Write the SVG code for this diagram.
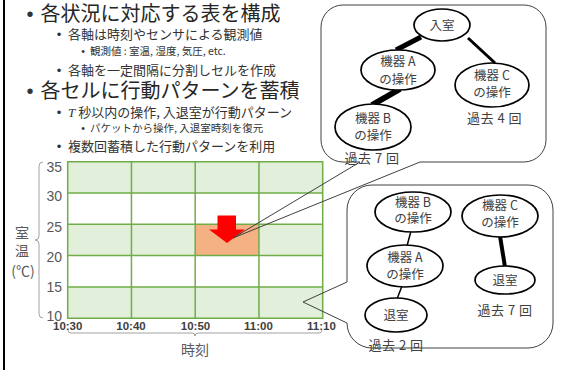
<svg xmlns="http://www.w3.org/2000/svg" width="561" height="370" viewBox="0 0 561 370">
<style>
text{font-family:"Noto Sans CJK JP","Noto Sans",sans-serif}
.t1{font-size:20px;fill:#262626}
.t2{font-size:13px;fill:#333}
.t3{font-size:10.5px;fill:#333}
.b{font-family:"Liberation Sans",sans-serif;text-anchor:middle;fill:#333}
.cell{fill:#E2EFDA}
.gl{stroke:#70AD47;stroke-width:1.5;fill:none}
.ax{font-family:"Liberation Sans",sans-serif;font-size:14px;fill:#595959;text-anchor:end}
.xl{font-family:"Liberation Sans",sans-serif;font-size:11.5px;font-weight:bold;fill:#404040;text-anchor:middle}
.lab{font-size:14px;fill:#595959;text-anchor:middle}
.brace{fill:none;stroke:#8c8c8c;stroke-width:0.8}
.co{fill:none;stroke:#404040;stroke-width:1}
.nd{fill:#fff;stroke:#000;stroke-width:1.7}
.nt{font-size:12.5px;fill:#404040;text-anchor:middle}
.cnt{font-size:13px;fill:#404040;text-anchor:middle;letter-spacing:0.5px}
.e{stroke:#000;stroke-linecap:butt}
</style>
<line x1="4" y1="0" x2="4" y2="370" stroke="#000" stroke-width="2"/>
<g id="bullets">
<text class="b" x="30" y="21" font-size="20">•</text>
<text class="t1" x="40.5" y="21">各状況に対応する表を構成</text>
<text class="b" x="59" y="39" font-size="13">•</text>
<text class="t2" x="68" y="39">各軸は時刻やセンサによる観測値</text>
<text class="b" x="83" y="55" font-size="10.5">•</text>
<text class="t3" x="90" y="55">観測値 : 室温, 湿度, 気圧, etc.</text>
<text class="b" x="59" y="74.5" font-size="13">•</text>
<text class="t2" x="68" y="74.5">各軸を一定間隔に分割しセルを作成</text>
<text class="b" x="30" y="98" font-size="20">•</text>
<text class="t1" x="40.5" y="98">各セルに行動パターンを蓄積</text>
<text class="b" x="59" y="116.5" font-size="13">•</text>
<text class="t2" x="68" y="116.5"><tspan font-family="Liberation Serif" font-style="italic">T</tspan> 秒以内の操作, 入退室が行動パターン</text>
<text class="b" x="83" y="131.5" font-size="10.5">•</text>
<text class="t3" x="90" y="131.5">パケットから操作, 入退室時刻を復元</text>
<text class="b" x="59" y="150.5" font-size="13">•</text>
<text class="t2" x="68" y="150.5">複数回蓄積した行動パターンを利用</text>
</g>
<g id="grid">
<rect class="cell" x="67.7" y="161.7" width="255" height="31.3"/>
<rect class="cell" x="67.7" y="224.3" width="255" height="31.3"/>
<rect class="cell" x="67.7" y="286.9" width="255" height="31.3"/>
<rect x="195.2" y="224.3" width="63.75" height="31.3" fill="#F4B183"/>
<path class="gl" d="M67.7,161.7H322.7V318.2H67.7Z M67.7,193H322.7 M67.7,224.3H322.7 M67.7,255.6H322.7 M67.7,286.9H322.7 M131.45,161.7V318.2 M195.2,161.7V318.2 M258.95,161.7V318.2"/>
<path d="M217.5,215.5H236V229.5H245L227,243L209,229.5H217.5Z" fill="#FF0000"/>
<text class="ax" x="62" y="171.7">35</text>
<text class="ax" x="62" y="200.7">30</text>
<text class="ax" x="62" y="231.7">25</text>
<text class="ax" x="62" y="261.7">20</text>
<text class="ax" x="62" y="291.7">15</text>
<text class="ax" x="62" y="320.7">10</text>
<text class="xl" x="67.7" y="330">10:30</text>
<text class="xl" x="131" y="330">10:40</text>
<text class="xl" x="195.5" y="330">10:50</text>
<text class="xl" x="258.5" y="330">11:00</text>
<text class="xl" x="321.5" y="330">11:10</text>
<path class="brace" d="M68,330q0,3 3,3H192q3,0 3,3q0,-3 3,-3H319q3,0 3,-3"/>
<path class="brace" d="M43,162q-4,0 -4,4V236q0,4 -4,4q4,0 4,4V314q0,4 4,4"/>
<text class="lab" x="195" y="355">時刻</text>
<text class="lab" x="22" y="237.5">室</text>
<text class="lab" x="22" y="256">温</text>
<text class="lab" x="23" y="276">(℃)</text>
</g>
<g id="callouts">
<path id="callout1" class="co" d="M343,5H524A22,22 0 0 1 546,27V140A22,22 0 0 1 524,162H420L233,238L360,162H343A22,22 0 0 1 321,140V27A22,22 0 0 1 343,5Z"/>
<path id="callout2" class="co" d="M372,185H528A25,25 0 0 1 553,210V323A25,25 0 0 1 528,348H372A25,25 0 0 1 347,323L303,302L347,282V210A25,25 0 0 1 372,185Z"/>
</g>
<g id="connectors">
<line class="e" x1="421" y1="37" x2="396" y2="50" stroke-width="5"/>
<line class="e" x1="468" y1="38" x2="495" y2="63" stroke-width="3"/>
<line class="e" x1="400" y1="89" x2="372" y2="105" stroke-width="6"/>
<line class="e" x1="411" y1="231" x2="407" y2="246" stroke-width="1.5"/>
<line class="e" x1="402" y1="286" x2="397" y2="299" stroke-width="1.5"/>
<line class="e" x1="500" y1="236" x2="505" y2="267" stroke-width="4"/>
</g>
<g id="n1-enter"><ellipse class="nd" cx="442" cy="25" rx="28" ry="16"/><text class="nt" x="442" y="30">入室</text></g>
<g id="n1-A"><ellipse class="nd" cx="398" cy="70" rx="37" ry="20"/><text class="nt" x="398" y="66">機器 A</text><text class="nt" x="398" y="84">の操作</text></g>
<g id="n1-C"><ellipse class="nd" cx="492" cy="85" rx="37" ry="22"/><text class="nt" x="492" y="80">機器 C</text><text class="nt" x="492" y="97">の操作</text></g>
<g id="n1-B"><ellipse class="nd" cx="373" cy="127" rx="38" ry="23"/><text class="nt" x="373" y="123">機器 B</text><text class="nt" x="373" y="140">の操作</text></g>
<text class="cnt" x="494.5" y="122.5">過去 4 回</text>
<text class="cnt" x="372" y="163">過去 7 回</text>
<g id="n2-B"><ellipse class="nd" cx="413" cy="212" rx="38" ry="20"/><text class="nt" x="413" y="206.5">機器 B</text><text class="nt" x="413" y="223">の操作</text></g>
<g id="n2-C"><ellipse class="nd" cx="500" cy="216" rx="38" ry="21"/><text class="nt" x="500" y="210">機器 C</text><text class="nt" x="500" y="226.5">の操作</text></g>
<g id="n2-A"><ellipse class="nd" cx="405" cy="266" rx="38" ry="21"/><text class="nt" x="405" y="262">機器 A</text><text class="nt" x="405" y="278.5">の操作</text></g>
<g id="n2-exit1"><ellipse class="nd" cx="396" cy="315" rx="31" ry="17"/><text class="nt" x="396" y="320">退室</text></g>
<g id="n2-exit2"><ellipse class="nd" cx="505" cy="280" rx="30" ry="14"/><text class="nt" x="505" y="285">退室</text></g>
<text class="cnt" x="505" y="315">過去 7 回</text>
<text class="cnt" x="396" y="350">過去 2 回</text>
</svg>
